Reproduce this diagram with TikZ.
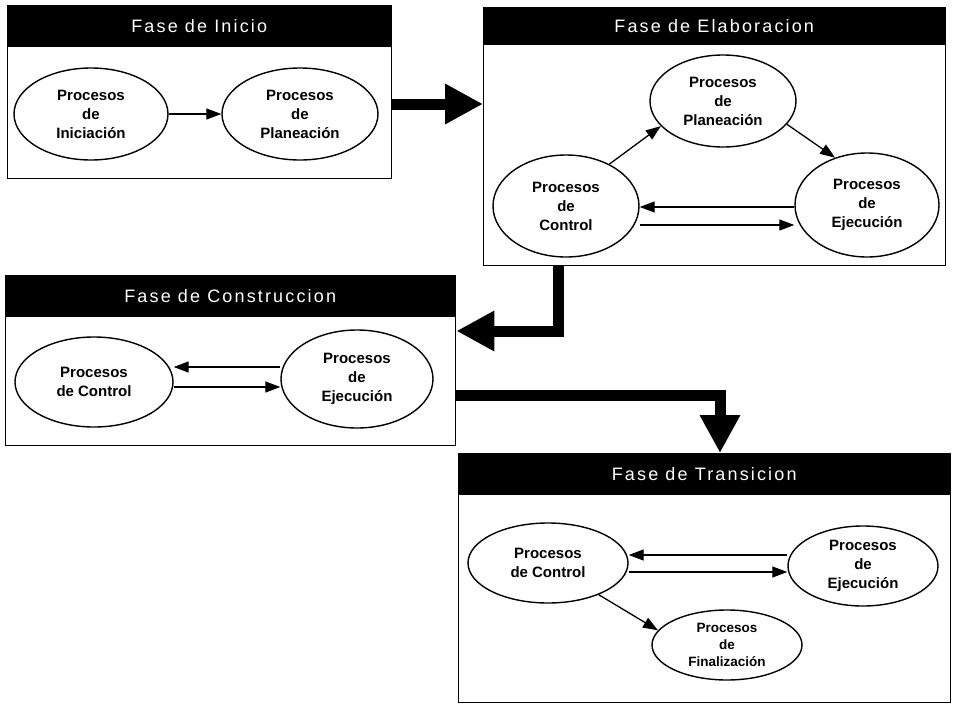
\documentclass[tikz,border=0pt]{standalone}
\usepackage{fontspec}
\setmainfont{Liberation Sans}
\newfontfamily\headfont[LetterSpace=12]{Liberation Sans}
\usetikzlibrary{shapes.geometric,arrows.meta}

\begin{document}
\begin{tikzpicture}[x=1pt,y=-1pt,
  phase/.style={draw=black, line width=1.4pt, fill=white, inner sep=0pt, anchor=north west},
  phasehead/.style={fill=black, inner sep=0pt, anchor=north west, text=white,
    font=\headfont\fontsize{18}{20}\selectfont},
  proc/.style={ellipse, draw=black, line width=1.4pt, inner sep=0pt, align=center,
    font=\bfseries\fontsize{15}{19}\selectfont},
  flow/.style={line width=1.3pt, -{Triangle[length=15pt,width=11pt]}},
  bigflow/.style={line width=11pt, line join=miter, -{Triangle[length=38pt,width=38pt]}},
]
\fill[white] (0,0) rectangle (954,707);
\useasboundingbox (0,0) rectangle (954,707);

% ---------- Fase de Inicio ----------
\node[phase, minimum width=384pt, minimum height=173pt] (inicio) at (7,5) {};
\node[phasehead, minimum width=384pt, minimum height=42pt] (inicioH) at (7,5) {Fase de Inicio};
\node[proc, minimum width=154pt, minimum height=92pt] (iI) at (91,114) {Procesos\\de\\Iniciación};
\node[proc, minimum width=156pt, minimum height=92pt] (iP) at (300,114) {Procesos\\de\\Planeación};
\draw[flow] (iI) -- (iP);

% ---------- Fase de Elaboracion ----------
\node[phase, minimum width=462pt, minimum height=258pt] (elab) at (483,7) {};
\node[phasehead, minimum width=462pt, minimum height=38pt] (elabH) at (483,7) {Fase de Elaboracion};
\node[proc, minimum width=146pt, minimum height=92pt] (eP) at (723,101) {Procesos\\de\\Planeación};
\node[proc, minimum width=146pt, minimum height=102pt] (eC) at (566,206) {Procesos\\de\\Control};
\node[proc, minimum width=144pt, minimum height=104pt] (eE) at (867,205) {Procesos\\de\\Ejecución};
\coordinate (eUp) at (0,207);
\coordinate (eDn) at (0,225);
\draw[flow] (eC.44) -- (eP.-158);
\draw[flow] (eP.-20) -- (eE.124);
\draw[flow] (eE.west |- eUp) -- (eC.east |- eUp);
\draw[flow] (eC.east |- eDn) -- (eE.west |- eDn);

% ---------- Fase de Construccion ----------
\node[phase, minimum width=450pt, minimum height=170pt] (constr) at (5,275) {};
\node[phasehead, minimum width=450pt, minimum height=42pt] (constrH) at (5,275) {Fase de Construccion};
\node[proc, minimum width=158pt, minimum height=90pt] (cC) at (94,382) {Procesos\\de Control};
\node[proc, minimum width=152pt, minimum height=98pt] (cE) at (357,379) {Procesos\\de\\Ejecución};
\coordinate (cUp) at (0,367);
\coordinate (cDn) at (0,387);
\draw[flow] (cE.west |- cUp) -- (cC.east |- cUp);
\draw[flow] (cC.east |- cDn) -- (cE.west |- cDn);

% ---------- Fase de Transicion ----------
\node[phase, minimum width=492pt, minimum height=249pt] (trans) at (458,453) {};
\node[phasehead, minimum width=492pt, minimum height=42pt] (transH) at (458,453) {Fase de Transicion};
\node[proc, minimum width=160pt, minimum height=80pt] (tC) at (548,563) {Procesos\\de Control};
\node[proc, minimum width=150pt, minimum height=80pt] (tE) at (863,566) {Procesos\\de\\Ejecución};
\node[proc, minimum width=150pt, minimum height=70pt,
      font=\bfseries\fontsize{13.5}{17}\selectfont] (tF) at (727,645) {Procesos\\de\\Finalización};
\coordinate (tUp) at (0,555);
\coordinate (tDn) at (0,572);
\draw[flow] (tE.west |- tUp) -- (tC.east |- tUp);
\draw[flow] (tC.east |- tDn) -- (tE.west |- tDn);
\draw[flow] (tC.-32) -- (tF.168);

% ---------- transitions between phases ----------
\coordinate (r1) at (0,104);
\coordinate (x2) at (558,0);
\coordinate (r2) at (0,331);
\coordinate (r3) at (0,395);
\coordinate (x3) at (720,0);
\draw[bigflow] (inicio.east |- r1) -- (elab.west |- r1);
\draw[bigflow] (elab.south -| x2) |- (constr.east |- r2);
\draw[bigflow] (constr.east |- r3) -| (trans.north -| x3);
\end{tikzpicture}
\end{document}
